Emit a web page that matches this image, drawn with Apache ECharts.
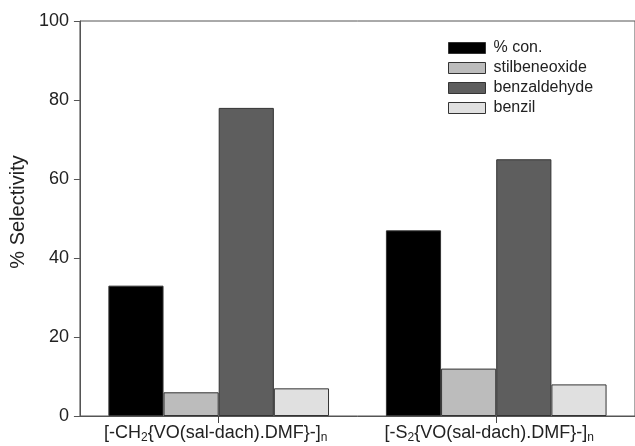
<!DOCTYPE html>
<html><head><meta charset="utf-8">
<script src="https://cdn.jsdelivr.net/npm/echarts@6/dist/echarts.min.js"></script>
<style>html,body{margin:0;padding:0;background:#fff}#c{width:635px;height:446px}</style>
</head><body><div id="c"></div>
<script>
var categories = ['[-CH{sub|2}{VO(sal-dach).DMF}-]{sub|n}', '[-S{sub|2}{VO(sal-dach).DMF}-]{sub|n}'];
var seriesNames = ['% con.', 'stilbeneoxide', 'benzaldehyde', 'benzil'];
var conValues = [33, 47];
var stilbeneoxideValues = [6, 12];
var benzaldehydeValues = [78, 65];
var benzilValues = [7, 8];
var yTicks = [0, 20, 40, 60, 80, 100];

var colors = ['#000000', '#bcbcbc', '#5e5e5e', '#e0e0e0'];
var labelPads = [[0, 6, 0, 0], [0, 14, 0, 0]];
var allValues = [conValues, stilbeneoxideValues, benzaldehydeValues, benzilValues];
var font = 'Liberation Sans, Arial, sans-serif';
var chart = echarts.init(document.getElementById('c'));
chart.setOption({
  animation: false,
  textStyle: {fontFamily: font},
  grid: {left: 79, top: 21, right: -10, bottom: 30, show: true, borderColor: '#555', borderWidth: 1},
  legend: {
    orient: 'vertical', left: 443, top: 34, itemWidth: 37, itemHeight: 11, itemGap: 2,
    icon: 'rect',
    itemStyle: {borderWidth: 1, borderColor: '#333'},
    textStyle: {fontSize: 16, color: '#222', fontFamily: font, lineHeight: 18, padding: [0, 0, 0, 3]},
    data: seriesNames
  },
  xAxis: {
    type: 'category',
    data: categories.map(function (c, i) { return {value: c, textStyle: {padding: labelPads[i]}}; }),
    axisLine: {lineStyle: {color: '#555'}},
    axisTick: {show: true, alignWithLabel: true, interval: 0, length: 7, lineStyle: {color: '#444', width: 1}},
    axisLabel: {
      interval: 0, hideOverlap: false,
      color: '#222', fontSize: 18, margin: 7, fontFamily: font,
      rich: {sub: {fontSize: 12, color: '#222', verticalAlign: 'bottom', padding: [9, 0, 0, 0], fontFamily: font}}
    }
  },
  yAxis: {
    type: 'value', min: yTicks[0], max: yTicks[yTicks.length - 1], interval: 20,
    name: '% Selectivity', nameLocation: 'middle', nameGap: 40, nameRotate: 90,
    nameTextStyle: {fontSize: 20, color: '#222', fontFamily: font, padding: [0, 0, 0, 13]},
    axisLine: {show: true, lineStyle: {color: '#555'}},
    axisTick: {show: true, length: 6, lineStyle: {color: '#555'}},
    axisLabel: {color: '#222', fontSize: 18, margin: 11, fontFamily: font},
    splitLine: {show: false}
  },
  series: seriesNames.map(function (n, i) {
    return {
      name: n, type: 'bar', data: allValues[i], barGap: '0%', barCategoryGap: '20.5%',
      itemStyle: {color: colors[i], borderColor: '#333', borderWidth: 1}
    };
  })
});
</script></body></html>
